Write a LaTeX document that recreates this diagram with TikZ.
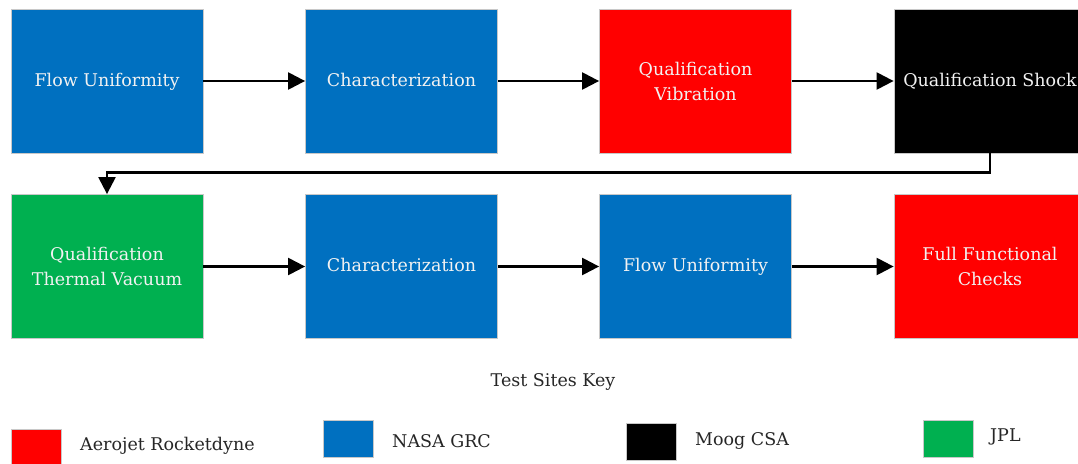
\documentclass[tikz,border=0pt]{standalone}
\usepackage{fontspec}
\setmainfont{DejaVu Serif}
\usetikzlibrary{arrows.meta}
\definecolor{grcblue}{HTML}{0070C0}
\definecolor{arred}{HTML}{FF0000}
\definecolor{jplgreen}{HTML}{00B050}
\definecolor{edgegray}{HTML}{C8C8C8}
\definecolor{boxtext}{HTML}{F2F2F2}
\tikzset{
  stepbox/.style={draw=edgegray, line width=0.8pt, minimum width=192pt, minimum height=144pt,
    inner sep=0pt, align=center, text=boxtext, font=\fontsize{17.5}{25}\selectfont},
  keybox/.style={draw=edgegray, line width=0.6pt, minimum width=50pt, minimum height=37pt, inner sep=0pt},
  keytext/.style={anchor=west, inner sep=0pt, text=black!85, font=\fontsize{17.5}{20}\selectfont},
  arr/.style={line width=2.3pt, -{Triangle[length=17pt, width=17pt]}}
}
\begin{document}
\begin{tikzpicture}[x=1pt,y=-1pt]
\useasboundingbox (0,0) rectangle (1078,463);
\node[stepbox, fill=grcblue] (b1) at (107,81) {\strut Flow Uniformity};
\node[stepbox, fill=grcblue] (b2) at (401.5,81) {\strut Characterization};
\node[stepbox, fill=arred] (b3) at (695.5,81) {Qualification\\Vibration};
\node[stepbox, fill=black] (b4) at (990,81) {\strut Qualification Shock};
\node[stepbox, fill=jplgreen] (b5) at (107,266.5) {Qualification\\Thermal Vacuum};
\node[stepbox, fill=grcblue] (b6) at (401.5,266.5) {\strut Characterization};
\node[stepbox, fill=grcblue] (b7) at (695.5,266.5) {\strut Flow Uniformity};
\node[stepbox, fill=arred] (b8) at (990,266.5) {Full Functional\\Checks};
\draw[arr] (b1) -- (b2);
\draw[arr] (b2) -- (b3);
\draw[arr] (b3) -- (b4);
\draw[arr] (b4.south) -- ++(0,19) -| (b5.north);
\draw[arr] (b5) -- (b6);
\draw[arr] (b6) -- (b7);
\draw[arr] (b7) -- (b8);
\node[inner sep=0pt, text=black!85, font=\fontsize{17.5}{20}\selectfont] (title) at (553,382) {Test Sites Key};
\node[keybox, fill=arred] (k1) at (36,447.5) {};
\node[keytext] (t1) at (80,446) {Aerojet Rocketdyne};
\node[keybox, fill=grcblue] (k2) at (348,438.5) {};
\node[keytext] (t2) at (392,441) {NASA GRC};
\node[keybox, fill=black] (k3) at (651,442) {};
\node[keytext] (t3) at (695,441) {Moog CSA};
\node[keybox, fill=jplgreen] (k4) at (948.5,438.5) {};
\node[keytext] (t4) at (990,437) {JPL};
\end{tikzpicture}
\end{document}
